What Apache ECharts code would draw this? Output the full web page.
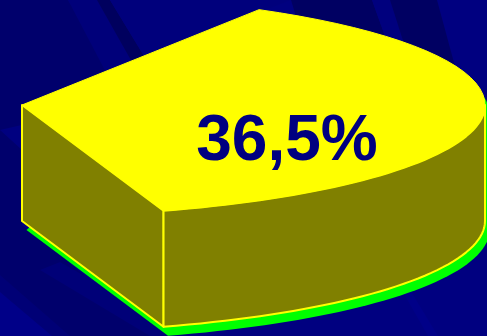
<!DOCTYPE html>
<html>
<head>
<meta charset="utf-8">
<style>html,body{margin:0;padding:0;background:#000080}#c{width:487px;height:336px}</style>
<script src="https://cdn.jsdelivr.net/npm/echarts@6/dist/echarts.min.js"></script>
</head>
<body>
<div id="c"></div>
<script>
// Share shown by the wedge, in percent
const shares = [36.5];

// Oblique projection of the wedge
const hub = [22, 105];
const radiusX = 463;
const radiusY = 111;
const startDeg = -59.2;
const depth = 116;
const shadowShift = [4.5, 9];
const rimSteps = 44;
const labelCentre = [287, 142];

// Backdrop streaks: fill, then corner points
const streaks = [
  ['#00006c', [[0, 0], [68, 0], [130, 100], [0, 130]]],
  ['#00006c', [[0, 130], [22, 150], [22, 225], [160, 336], [0, 336]]],
  ['#000076', [[0, 275], [70, 336], [0, 336]]],
  ['#000088', [[0, 292], [52, 336], [0, 336]]],
  ['#00007a', [[68, 0], [97, 0], [150, 90], [110, 80]]],
  ['#00005e', [[97, 0], [110, 0], [144, 56], [132, 62]]],
  ['#00007c', [[110, 0], [291, 0], [260, 12], [144, 56]]],
  ['#000062', [[291, 0], [372, 0], [390, 50], [300, 30]]],
  ['#00007e', [[372, 0], [390, 0], [406, 50], [390, 50]]],
  ['#000062', [[390, 0], [437, 0], [456, 70], [406, 50]]],
  ['#000088', [[403, 292], [410, 290], [438, 336], [428, 336]]],
  ['#000078', [[40, 270], [60, 262], [190, 336], [150, 336]]]
];

const wedgeTop = '#ffff00';
const wedgeSide = '#808000';
const wedgeShadow = '#00ff00';
const labelColor = '#000080';

const chart = echarts.init(document.getElementById('c'), null, { renderer: 'canvas' });

function rimPoint(deg, drop, shift) {
  const a = deg * Math.PI / 180;
  return [
    hub[0] + radiusX * Math.cos(a) + shift[0],
    hub[1] + radiusY * Math.sin(a) + drop + shift[1]
  ];
}

function rimArc(from, to, drop, shift) {
  const pts = [];
  for (let i = 0; i <= rimSteps; i++) {
    pts.push(rimPoint(from + (to - from) * i / rimSteps, drop, shift));
  }
  return pts;
}

function renderWedge(params, api) {
  const sweep = api.value(0) / 100 * 360;
  const endDeg = startDeg + sweep;
  const none = [0, 0];
  const toPx = pts => pts.map(p => api.coord(p));

  const topFace = [hub].concat(rimArc(startDeg, endDeg, 0, none));
  const outerSide = rimArc(0, endDeg, 0, none)
    .concat(rimArc(endDeg, 0, depth, none));
  const frontCorner = rimPoint(endDeg, 0, none);
  const frontFoot = rimPoint(endDeg, depth, none);
  const hubFoot = [hub[0], hub[1] + depth];
  const flatSide = [hub, frontCorner, frontFoot, hubFoot];

  // Shadow: the solid's lower silhouette pushed down and to the right
  const shadowOutline = [[hubFoot[0] + shadowShift[0], hubFoot[1] + shadowShift[1]]]
    .concat(rimArc(endDeg, 0, depth, shadowShift))
    .concat(rimArc(0, startDeg, 0, shadowShift));

  const rimColor = { stroke: wedgeTop, lineWidth: 2, lineJoin: 'round' };
  const labelAt = api.coord(labelCentre);

  return {
    type: 'group',
    children: [
      { type: 'polygon', shape: { points: toPx(shadowOutline) }, style: { fill: wedgeShadow } },
      { type: 'polygon', shape: { points: toPx(flatSide) }, style: Object.assign({ fill: wedgeSide }, rimColor) },
      { type: 'polygon', shape: { points: toPx(outerSide) }, style: Object.assign({ fill: wedgeSide }, rimColor) },
      { type: 'polygon', shape: { points: toPx(topFace) }, style: { fill: wedgeTop, stroke: wedgeTop, lineWidth: 1 } },
      {
        type: 'text',
        x: labelAt[0],
        y: labelAt[1],
        style: {
          text: String(api.value(0)).replace('.', ',') + '%',
          fill: labelColor,
          font: 'bold 64px "Liberation Sans", Arial, sans-serif',
          align: 'center',
          verticalAlign: 'middle'
        }
      }
    ]
  };
}

chart.setOption({
  animation: false,
  backgroundColor: '#000080',
  grid: { left: 0, right: 0, top: 0, bottom: 0 },
  xAxis: { type: 'value', min: 0, max: 487, show: false },
  yAxis: { type: 'value', min: 0, max: 336, inverse: true, show: false },
  graphic: streaks.map(([fill, points]) => ({
    type: 'polygon',
    silent: true,
    z: -1,
    shape: { points },
    style: { fill }
  })),
  series: [{
    type: 'custom',
    coordinateSystem: 'cartesian2d',
    silent: true,
    clip: false,
    renderItem: renderWedge,
    encode: { x: 0 },
    data: shares.map(v => [v])
  }]
});
</script>
</body>
</html>
